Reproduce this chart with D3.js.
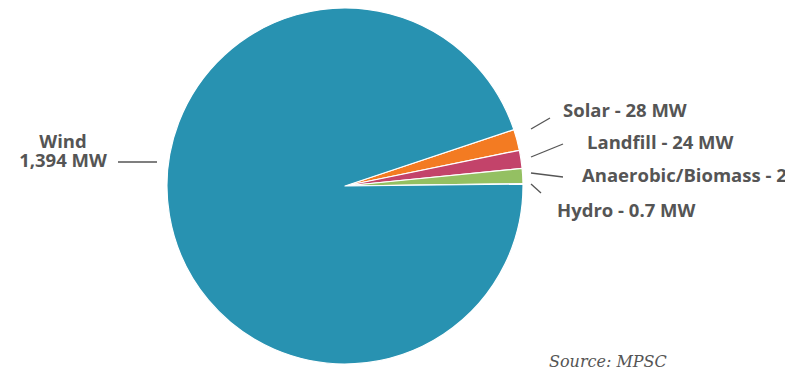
<!DOCTYPE html>
<html>
<head>
<meta charset="utf-8">
<script src="https://cdn.jsdelivr.net/npm/d3@7"></script>
<style>
  html, body { margin: 0; padding: 0; background: #fff; }
  svg { display: block; }
</style>
</head>
<body>
<svg id="chart" width="785" height="373"></svg>
<script>
// Installed renewable capacity by source (MW)
const categories = ["Solar", "Landfill", "Anaerobic/Biomass", "Hydro", "Wind"];
const values = [28, 24, 20, 0.7, 1394];
const colors = ["#f37b22", "#c3436a", "#94c062", "#1f4f7d", "#2892b1"];
const sourceNote = "Source: MPSC";

const width = 785, height = 373;
const cx = 345, cy = 186, R = 178;

const svg = d3.select("#chart");
const g = svg.append("g").attr("transform", `translate(${cx},${cy})`);

// Small slices sit just above 3 o'clock, wind fills the rest clockwise
const total = d3.sum(values);
const smallSum = d3.sum(values.slice(0, 4));
const tilt = 0.6 * Math.PI / 180;
const start = Math.PI / 2 - tilt - (smallSum / total) * 2 * Math.PI;

const pie = d3.pie().sort(null).value(d => d)
  .startAngle(start).endAngle(start + 2 * Math.PI);
const arc = d3.arc().innerRadius(0).outerRadius(R);
const arcs = pie(values);

g.selectAll("path.slice")
  .data(arcs)
  .join("path")
  .attr("class", "slice")
  .attr("d", arc)
  .attr("fill", (d, i) => colors[i])
  .attr("stroke", "#fff")
  .attr("stroke-width", 1.2)
  .attr("stroke-linejoin", "round");

const fmt = d3.format(",");
const textColor = "#555555";
const font = "'Open Sans', sans-serif";
const fontSize = 18.5;

// Callout offsets for the small slices, relative to the pie's right edge
const callouts = [
  { sx: 8, sy: -57, ex: 27, ey: -68, tx: 40, ty: -69 },
  { sx: 8, sy: -29, ex: 40, ey: -42, tx: 64, ty: -37 },
  { sx: 8, sy: -13, ex: 40, ey: -9, tx: 59, ty: -4 },
  { sx: 8, sy: -2, ex: 18, ey: 7, tx: 34, ty: 31 }
];

const edge = svg.append("g").attr("transform", `translate(${cx + R},${cy})`);
callouts.forEach((c, i) => {
  edge.append("line")
    .attr("x1", c.sx).attr("y1", c.sy)
    .attr("x2", c.ex).attr("y2", c.ey)
    .attr("stroke", textColor).attr("stroke-width", 1.3);
  edge.append("text")
    .attr("x", c.tx).attr("y", c.ty)
    .attr("font-family", font).attr("font-weight", 700)
    .attr("font-size", fontSize).attr("fill", textColor)
    .text(`${categories[i]} - ${values[i]} MW`);
});

// Wind label on the left side
const left = svg.append("g").attr("transform", `translate(${cx - R},${cy})`);
left.append("line")
  .attr("x1", -49).attr("y1", -24)
  .attr("x2", -10).attr("y2", -24)
  .attr("stroke", textColor).attr("stroke-width", 1.3);
const wt = left.append("text")
  .attr("text-anchor", "middle")
  .attr("font-family", font).attr("font-weight", 700)
  .attr("font-size", fontSize).attr("fill", textColor);
wt.append("tspan").attr("x", -104).attr("y", -38).text(categories[4]);
wt.append("tspan").attr("x", -104).attr("y", -19.5).text(`${fmt(values[4])} MW`);

svg.append("text")
  .attr("x", 549).attr("y", 367)
  .attr("font-family", "'DejaVu Serif', serif")
  .attr("font-style", "italic")
  .attr("font-size", 16)
  .attr("fill", "#555")
  .text(sourceNote);
</script>
</body>
</html>
